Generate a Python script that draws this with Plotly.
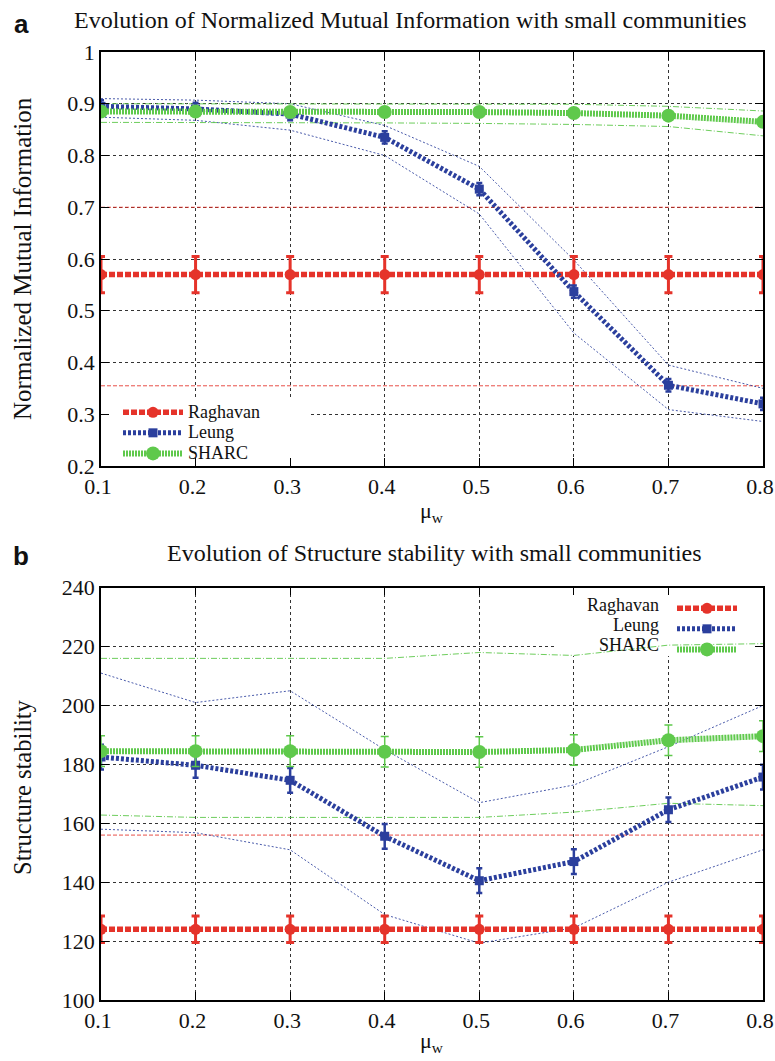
import plotly.graph_objects as go

# ---------------- data ----------------
mu = [0.1, 0.2, 0.3, 0.4, 0.5, 0.6, 0.7, 0.8]
x_ticks = ["0.1", "0.2", "0.3", "0.4", "0.5", "0.6", "0.7", "0.8"]

# panel a : Normalized Mutual Information
nmi_raghavan = [0.57, 0.57, 0.57, 0.57, 0.57, 0.57, 0.57, 0.57]
nmi_raghavan_err = [0.035] * 8
nmi_raghavan_hi = [0.70] * 8
nmi_raghavan_lo = [0.355] * 8
nmi_leung = [0.895, 0.89, 0.88, 0.835, 0.735, 0.537, 0.356, 0.32]
nmi_leung_err = [0.012] * 8
nmi_leung_hi = [0.91, 0.907, 0.90, 0.858, 0.779, 0.598, 0.395, 0.35]
nmi_leung_lo = [0.874, 0.868, 0.849, 0.80, 0.687, 0.457, 0.309, 0.286]
nmi_sharc = [0.885, 0.885, 0.884, 0.884, 0.884, 0.882, 0.877, 0.865]
nmi_sharc_err = [0.006] * 8
nmi_sharc_hi = [0.90, 0.90, 0.90, 0.90, 0.90, 0.899, 0.895, 0.886]
nmi_sharc_lo = [0.864, 0.864, 0.863, 0.863, 0.862, 0.86, 0.856, 0.838]
nmi_ticks = [0.2, 0.3, 0.4, 0.5, 0.6, 0.7, 0.8, 0.9, 1.0]
nmi_ticktext = ["0.2", "0.3", "0.4", "0.5", "0.6", "0.7", "0.8", "0.9", "1"]

# panel b : Structure stability
ss_raghavan = [124, 124, 124, 124, 124, 124, 124, 124]
ss_raghavan_err = [4.5] * 8
ss_raghavan_hi = [156] * 8
ss_leung = [182.5, 179.7, 174.6, 155.6, 140.5, 147.0, 164.6, 175.7]
ss_leung_err = [4.2] * 8
ss_leung_hi = [211, 201, 205, 185, 167, 173, 186, 200]
ss_leung_lo = [158, 156.8, 151, 129, 119.3, 124.5, 140, 151]
ss_sharc = [184.5, 184.5, 184.5, 184.3, 184.2, 184.9, 188.2, 189.6]
ss_sharc_err = [5.2] * 8
ss_sharc_hi = [216, 216, 216, 216, 218, 217, 220.5, 221]
ss_sharc_lo = [162.8, 162, 162, 162, 162, 163.8, 166.8, 166]
ss_ticks = [100, 120, 140, 160, 180, 200, 220, 240]

names = ["Raghavan", "Leung", "SHARC"]

# ---------------- style ----------------
RED = "#e5332a"
BLUE = "#2b3f9d"
GREEN = "#5fc94c"
SERIF = "Liberation Serif"

W, H = 775, 1061
ML, MR, MT, MB = 101, 12, 52, 61
PW, PH = W - ML - MR, H - MT - MB

XR = [0.1, 0.8]
YRA = [0.2, 1.0]
YRB = [100, 240]
EPS = 1e-6


def px_x(p):
    return (p - ML) / PW


def px_y(p):
    return 1 - (p - MT) / PH


A_TOP, A_BOT = 52.5, 466.0
B_TOP, B_BOT = 587.7, 1000.0


def dx(p):  # pixel -> x data value
    return XR[0] + (p - ML) / PW * (XR[1] - XR[0])


def dya(p):
    return YRA[0] + (A_BOT - p) / (A_BOT - A_TOP) * (YRA[1] - YRA[0])


def dyb(p):
    return YRB[0] + (B_BOT - p) / (B_BOT - B_TOP) * (YRB[1] - YRB[0])


fig = go.Figure()


def add_panel(xa, ya, legend, labels, rag, rag_err, rag_bands, leu, leu_err, leu_bands,
              sha, sha_err, sha_bands):
    for b in rag_bands:
        fig.add_trace(go.Scatter(x=mu, y=b, mode="lines", xaxis=xa, yaxis=ya,
                                 line=dict(color=RED, width=1, dash="4px,2px"),
                                 opacity=0.85, showlegend=False, hoverinfo="skip"))
    for b in leu_bands:
        fig.add_trace(go.Scatter(x=mu, y=b, mode="lines", xaxis=xa, yaxis=ya,
                                 line=dict(color=BLUE, width=1, dash="2px,2px"),
                                 opacity=0.85, showlegend=False, hoverinfo="skip"))
    for b in sha_bands:
        fig.add_trace(go.Scatter(x=mu, y=b, mode="lines", xaxis=xa, yaxis=ya,
                                 line=dict(color=GREEN, width=1, dash="6px,2px,1px,2px"),
                                 opacity=0.9, showlegend=False, hoverinfo="skip"))
    fig.add_trace(go.Scatter(
        x=mu, y=rag, name=labels[0], mode="lines+markers", xaxis=xa, yaxis=ya, legend=legend,
        line=dict(color=RED, width=5.5, dash="6px,2px"),
        marker=dict(symbol="circle", size=11, color=RED),
        error_y=dict(type="data", array=rag_err, color=RED, thickness=3, width=4)))
    fig.add_trace(go.Scatter(
        x=mu, y=leu, name=labels[1], mode="lines+markers", xaxis=xa, yaxis=ya, legend=legend,
        line=dict(color=BLUE, width=5, dash="3px,2px"),
        marker=dict(symbol="square", size=9, color=BLUE),
        error_y=dict(type="data", array=leu_err, color=BLUE, thickness=2.5, width=3)))
    fig.add_trace(go.Scatter(
        x=mu, y=sha, name=labels[2], mode="lines+markers", xaxis=xa, yaxis=ya, legend=legend,
        line=dict(color=GREEN, width=6, dash="2px,1px"),
        marker=dict(symbol="circle", size=14, color=GREEN),
        error_y=dict(type="data", array=sha_err, color=GREEN, thickness=1.5, width=4)))


labels_a = ["<span style='font-size:18px'>%s</span>" % n for n in names]
labels_b = [" ", "  ", "   "]

add_panel("x", "y", "legend", labels_a,
          nmi_raghavan, nmi_raghavan_err, [nmi_raghavan_hi, nmi_raghavan_lo],
          nmi_leung, nmi_leung_err, [nmi_leung_hi, nmi_leung_lo],
          nmi_sharc, nmi_sharc_err, [nmi_sharc_hi, nmi_sharc_lo])
add_panel("x2", "y2", "legend2", labels_b,
          ss_raghavan, ss_raghavan_err, [ss_raghavan_hi],
          ss_leung, ss_leung_err, [ss_leung_hi, ss_leung_lo],
          ss_sharc, ss_sharc_err, [ss_sharc_hi, ss_sharc_lo])

axis_common = dict(showline=True, linecolor="black", linewidth=1.5, mirror="ticks",
                   ticks="inside", ticklen=8, tickwidth=1, tickcolor="black",
                   showgrid=True, gridcolor="#333333", griddash="dot", gridwidth=1,
                   zeroline=False, automargin=False, ticklabeloverflow="allow",
                   tickfont=dict(family=SERIF, size=22, color="#111"))

ya_dom = [px_y(A_BOT), 1.0]
yb_dom = [0.0, px_y(B_TOP)]

fig.update_layout(
    width=W, height=H,
    margin=dict(l=ML, r=MR, t=MT, b=MB, autoexpand=False),
    paper_bgcolor="white", plot_bgcolor="white",
    font=dict(family=SERIF, color="#111"),
    xaxis=dict(axis_common, domain=[0, 1], anchor="y", range=[XR[0] - EPS, XR[1] + EPS],
               tickvals=mu, ticktext=x_ticks, ticklabelshift=-3),
    yaxis=dict(axis_common, domain=ya_dom, anchor="x", range=[YRA[0] - EPS, YRA[1] + EPS],
               tickvals=nmi_ticks, ticktext=nmi_ticktext),
    xaxis2=dict(axis_common, domain=[0, 1], anchor="y2", range=[XR[0] - EPS, XR[1] + EPS],
                tickvals=mu, ticktext=x_ticks, ticklabelshift=-3),
    yaxis2=dict(axis_common, domain=yb_dom, anchor="x2", range=YRB,
                tickvals=ss_ticks),
    legend=dict(x=px_x(118), y=px_y(397), xanchor="left", yanchor="top",
                bgcolor="rgba(0,0,0,0)", borderwidth=0, itemwidth=60,
                font=dict(size=13.5, family=SERIF, color="#111"), tracegroupgap=0),
    legend2=dict(x=px_x(672), y=px_y(593), xanchor="left", yanchor="top",
                 bgcolor="rgba(0,0,0,0)", borderwidth=0, itemwidth=60,
                 font=dict(size=13.5, family=SERIF), tracegroupgap=0),
    showlegend=True,
)

# opaque key backgrounds (under the data, over the grid)
fig.add_shape(type="rect", xref="x", yref="y", x0=dx(ML + 1), x1=dx(310),
              y0=dya(A_BOT - 3), y1=dya(398), fillcolor="white",
              line=dict(width=0), layer="between")
fig.add_shape(type="rect", xref="x2", yref="y2", x0=dx(556), x1=dx(PW + ML - 1),
              y0=dyb(656), y1=dyb(B_TOP + 2), fillcolor="white",
              line=dict(width=0), layer="between")

ann = []
ann.append(dict(text="Evolution of Normalized Mutual Information with small communities",
                x=px_x(72), y=px_y(20), xref="paper", yref="paper", showarrow=False,
                xanchor="left", yanchor="middle", font=dict(size=24, family=SERIF)))
ann.append(dict(text="Evolution of Structure stability with small communities",
                x=px_x(165), y=px_y(553), xref="paper", yref="paper", showarrow=False,
                xanchor="left", yanchor="middle", font=dict(size=24, family=SERIF)))
ann.append(dict(text="<b>a</b>", x=px_x(21), y=px_y(24), xref="paper", yref="paper",
                showarrow=False, xanchor="center", yanchor="middle",
                font=dict(size=26, family="Liberation Sans", color="#111")))
ann.append(dict(text="<b>b</b>", x=px_x(21), y=px_y(556), xref="paper", yref="paper",
                showarrow=False, xanchor="center", yanchor="middle",
                font=dict(size=26, family="Liberation Sans", color="#111")))
ann.append(dict(text="Normalized Mutual Information", x=px_x(22), y=px_y(259),
                xref="paper", yref="paper", showarrow=False, textangle=-90,
                xanchor="center", yanchor="middle", font=dict(size=25, family=SERIF)))
ann.append(dict(text="Structure stability", x=px_x(22), y=px_y(787),
                xref="paper", yref="paper", showarrow=False, textangle=-90,
                xanchor="center", yanchor="middle", font=dict(size=24.5, family=SERIF)))
ann.append(dict(text="μ<sub>w</sub>", x=0.5, y=px_y(512), xref="paper", yref="paper",
                showarrow=False, xanchor="center", yanchor="middle",
                font=dict(size=22, family=SERIF)))
ann.append(dict(text="μ<sub>w</sub>", x=0.5, y=px_y(1042), xref="paper", yref="paper",
                showarrow=False, xanchor="center", yanchor="middle",
                font=dict(size=22, family=SERIF)))
rows_b = [605, 625, 645]
for nm, r in zip(names, rows_b):
    ann.append(dict(text=nm, x=px_x(661), y=px_y(r), xref="paper", yref="paper",
                    showarrow=False, xanchor="right", yanchor="middle",
                    font=dict(size=18, family=SERIF)))
fig.update_layout(annotations=ann)

fig.write_html("out.html")
